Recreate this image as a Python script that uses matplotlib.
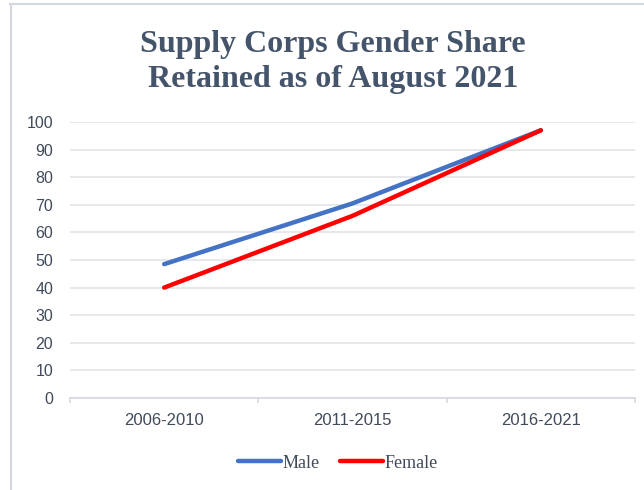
import matplotlib.pyplot as plt
from matplotlib.lines import Line2D

# data
periods = ['2006-2010', '2011-2015', '2016-2021']
male = [48.5, 70.5, 97]
female = [40, 66, 97]

fig = plt.figure(figsize=(6.44, 4.9), dpi=100)
ax = fig.add_axes([70 / 644, 1 - 398 / 490, 565 / 644, 276 / 490])

x = [0, 1, 2]
ax.plot(x, male, color='#4472C4', lw=3.2, solid_capstyle='round', label='Male')
ax.plot(x, female, color='#FF0000', lw=3.2, solid_capstyle='round', label='Female')

ax.set_xlim(-0.5, 2.5)
ax.set_ylim(0, 100)
ax.set_yticks(range(0, 101, 10))
ax.set_xticks(x)
ax.set_xticklabels(periods)
ax.grid(axis='y', color='#E1E4E9', lw=1.2)
ax.set_axisbelow(True)
for s in ['top', 'right', 'left']:
    ax.spines[s].set_visible(False)
ax.spines['bottom'].set_color('#D5D9DF')
ax.spines['bottom'].set_linewidth(1.2)
ax.tick_params(axis='y', length=0, pad=12, labelsize=11.5, labelcolor='#404A5A')
ax.tick_params(axis='x', length=0, pad=11, labelsize=12, labelcolor='#404A5A')
for lab in ax.get_xticklabels() + ax.get_yticklabels():
    lab.set_family('Liberation Sans')

# category boundary ticks on the x axis
for b in [-0.5, 0.5, 1.5, 2.5]:
    ax.plot([b, b], [0, -1.5], color='#D5D9DF', lw=1.2, clip_on=False)

fig.text(333 / 644, 1 - 62 / 490, 'Supply Corps Gender Share\nRetained as of August 2021',
         ha='center', va='center', fontsize=23, fontweight='bold',
         family='Liberation Serif', color='#44546A', linespacing=1.3)

handles = [Line2D([], [], color='#4472C4', lw=3.2, solid_capstyle='round'),
           Line2D([], [], color='#FF0000', lw=3.2, solid_capstyle='round')]
fig.legend(handles, ['Male', 'Female'], loc='center', bbox_to_anchor=(338 / 644, 1 - 463 / 490),
           ncol=2, frameon=False, handlelength=2.4, handletextpad=0.1, columnspacing=1.1,
           prop={'family': 'Liberation Serif', 'size': 13}, labelcolor='#404A5A')

# outer border (top and left edges visible in the reference)
fig.add_artist(Line2D([10 / 644, 1], [1 - 4.5 / 490, 1 - 4.5 / 490], color='#D3D8DF', lw=1.5))
fig.add_artist(Line2D([11 / 644, 11 / 644], [0, 1 - 4.5 / 490], color='#D3D8DF', lw=1.5))

fig.savefig('out.png', dpi=100)
